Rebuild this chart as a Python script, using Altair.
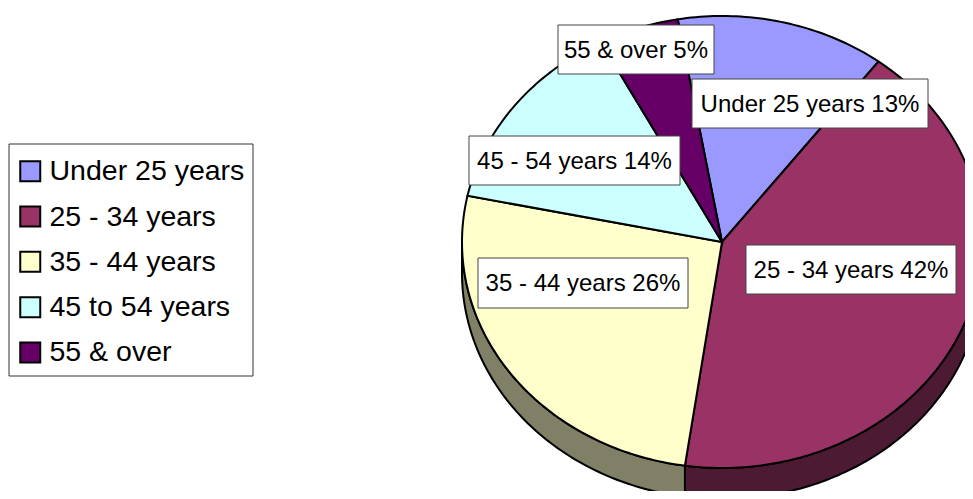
import math
import altair as alt

legend_names = ["Under 25 years", "25 - 34 years", "35 - 44 years", "45 to 54 years", "55 & over"]
label_names = ["Under 25 years", "25 - 34 years", "35 - 44 years", "45 - 54 years", "55 & over"]
shares = [13, 42, 26, 14, 5]
colors = ["#9999FF", "#993366", "#FFFFCC", "#CCFFFF", "#660066"]
wall_colors = ["#4D1A33", "#808066"]

# pie geometry, in chart pixels
CX, CY, RX, RY, DEPTH, START = 714, 234, 260, 226, 31, -9.8
# label box placement (left, right, top, bottom), in chart pixels
BOXES = [(684, 920, 71, 120), (738, 948, 237, 286), (470, 680, 250, 300),
         (461, 672, 128, 177), (550, 706, 17, 66)]
LEGEND_BOX = (1, 245, 136, 368)
W, H = 957, 483


def pt(a, dy=0):
    r = math.radians(a)
    return [CX + RX * math.sin(r), CY - RY * math.cos(r) + dy]


def arc(a0, a1, dy=0):
    n = max(2, int(abs(a1 - a0)) + 1)
    return [pt(a0 + (a1 - a0) * i / n, dy) for i in range(n + 1)]


wedges, walls, a = [], [], START
for name, share in zip(legend_names, shares):
    b = a + share * 3.6
    wedges.append({"type": "Feature", "properties": {"name": name},
                   "geometry": {"type": "Polygon",
                                "coordinates": [[[CX, CY]] + arc(a, b) + [[CX, CY]]]}})
    lo, hi = max(a, 90), min(b, 270)
    if hi > lo:
        ring = arc(lo, hi) + arc(hi, lo, DEPTH)
        ring.append(ring[0])
        walls.append({"type": "Feature", "properties": {"c": wall_colors[len(walls)]},
                      "geometry": {"type": "Polygon", "coordinates": [ring]}})
    a = b

proj = dict(type="identity", scale=1, translate=[0, 0])

legend_frame = (
    alt.Chart(alt.Data(values=[{"k": 1}]))
    .mark_rect(fill="white", stroke="#333333", strokeWidth=1)
    .encode(x=alt.value(LEGEND_BOX[0]), x2=alt.value(LEGEND_BOX[1]),
            y=alt.value(LEGEND_BOX[2]), y2=alt.value(LEGEND_BOX[3]))
)

wall_layer = (
    alt.Chart(alt.Data(values=walls))
    .mark_geoshape(stroke="black", strokeWidth=2, clip=True)
    .encode(fill=alt.Fill("properties.c:N", scale=None))
    .project(**proj)
)

pie_layer = (
    alt.Chart(alt.Data(values=wedges))
    .mark_geoshape(stroke="black", strokeWidth=2, clip=True)
    .encode(
        fill=alt.Fill(
            "properties.name:N",
            scale=alt.Scale(domain=legend_names, range=colors),
            legend=alt.Legend(
                title=None, orient="none", legendX=-4, legendY=137, padding=12,
                symbolType="square", symbolSize=400, symbolStrokeColor="black",
                symbolStrokeWidth=2, symbolOpacity=1,
                labelFont="Liberation Sans", labelFontSize=28.5, labelColor="black",
                labelOffset=5, labelLimit=300, rowPadding=16.3,
                values=legend_names,
            ),
        )
    )
    .project(**proj)
)

layers = [legend_frame, wall_layer, pie_layer]
for name, share, (x0, x1, y0, y1) in zip(label_names, shares, BOXES):
    d = alt.Data(values=[{"t": f"{name} {share}%"}])
    layers.append(
        alt.Chart(d).mark_rect(fill="white", stroke="#444444", strokeWidth=1).encode(
            x=alt.value(x0), x2=alt.value(x1), y=alt.value(y0), y2=alt.value(y1))
    )
    layers.append(
        alt.Chart(d).mark_text(font="Liberation Sans", fontSize=24, color="black",
                               align="center", baseline="middle").encode(
            x=alt.value((x0 + x1) / 2), y=alt.value((y0 + y1) / 2 + 1), text="t:N")
    )

chart = (
    alt.layer(*layers)
    .properties(width=W, height=H, padding=0, background="white",
                autosize=alt.AutoSizeParams(type="none"))
    .configure_view(stroke=None)
)

chart.save("out.html", embed_options={"renderer": "svg", "actions": False})
